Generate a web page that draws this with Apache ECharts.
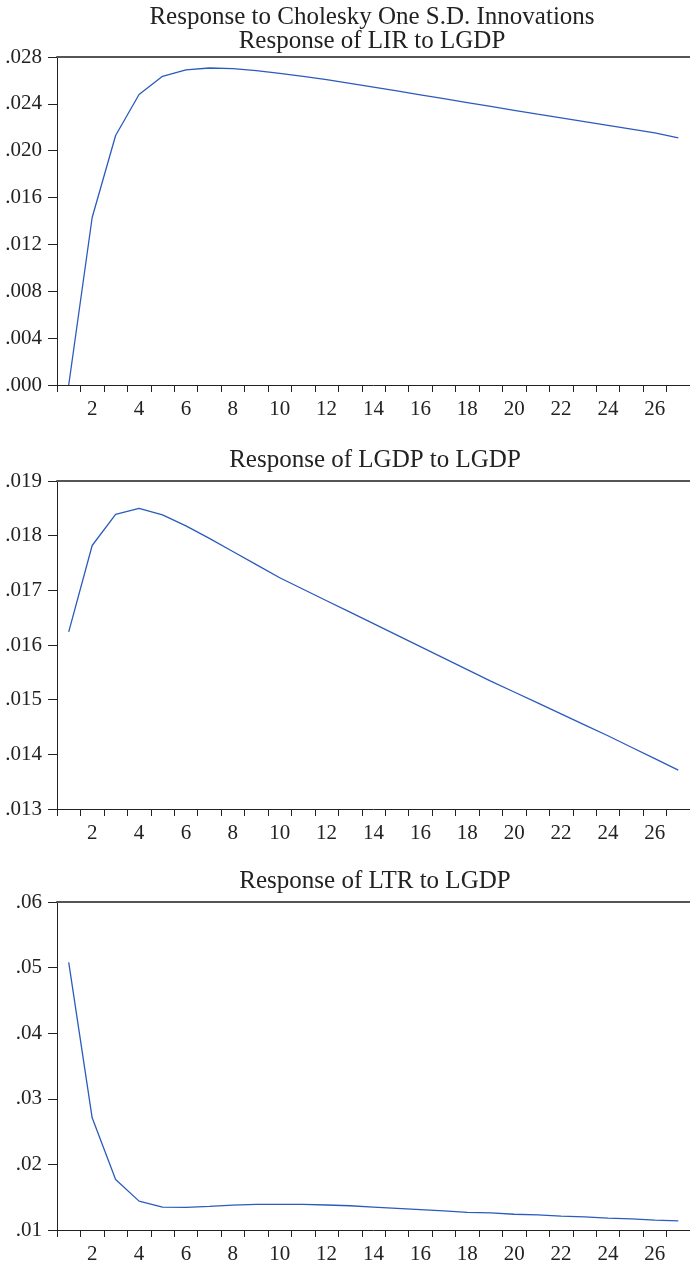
<!DOCTYPE html>
<html lang="en">
<head>
  <meta charset="UTF-8">
  <title>Response to Cholesky One S.D. Innovations</title>
  <script src="https://cdn.jsdelivr.net/npm/echarts@6/dist/echarts.min.js"></script>
</head>
<body style="margin:0">
<div id="main" style="width: 690px;height: 1266px;"></div>
<script>
  // periods 1..27
  let periods = []
  for (let i = 1; i <= 27; i++) periods.push(String(i))

  // Response of LIR to LGDP
  let lirValues = [0.0000, 0.0143, 0.0213, 0.0248, 0.02635, 0.0269, 0.02706, 0.0270, 0.02684, 0.02661,
    0.02635, 0.02606, 0.02575, 0.02543, 0.02510, 0.02477, 0.02444, 0.02411, 0.02378, 0.02345,
    0.02312, 0.0228, 0.02248, 0.02216, 0.02184, 0.02152, 0.0211]
  // Response of LGDP to LGDP
  let lgdpValues = [0.01624, 0.01782, 0.01839, 0.0185, 0.01838, 0.01818, 0.01795, 0.01771, 0.01747, 0.01723,
    0.01702, 0.01681, 0.0166, 0.01639, 0.01618, 0.01597, 0.01576, 0.01555, 0.01534, 0.01514,
    0.01494, 0.01474, 0.01454, 0.01434, 0.01413, 0.01392, 0.01371]
  // Response of LTR to LGDP
  let ltrValues = [0.0508, 0.0271, 0.0177, 0.0144, 0.0135, 0.01345, 0.0136, 0.0138, 0.0139, 0.01392,
    0.0139, 0.01381, 0.0137, 0.0135, 0.0133, 0.0131, 0.0129, 0.0127, 0.0126, 0.0124,
    0.0123, 0.0121, 0.012, 0.0118, 0.0117, 0.0115, 0.0114]

  let titles = ['Response of LIR to LGDP', 'Response of LGDP to LGDP', 'Response of LTR to LGDP']
  let yRanges = [[0, 0.028, 0.004, 3], [0.013, 0.019, 0.001, 3], [0.01, 0.06, 0.01, 2]]
  let gridTops = [57, 481, 902]

  let font = 'Liberation Serif'
  let myChart = echarts.init(document.getElementById('main'))

  let grids = [], xAxes = [], yAxes = [], series = [], titleList = []
  let allValues = [lirValues, lgdpValues, ltrValues]

  gridTops.forEach((top, i) => {
    grids.push({left: 57, top: top, width: 636, height: 328})
    // bottom axis
    xAxes.push({
      type: 'category', gridIndex: i, data: periods, boundaryGap: true,
      axisLine: {lineStyle: {color: '#222', width: 1}},
      axisTick: {show: true, interval: 0, length: 7, lineStyle: {color: '#222'}},
      axisLabel: {
        interval: (idx) => idx % 2 === 1,
        margin: 14, fontFamily: font, fontSize: 21, color: '#222'
      },
      splitLine: {show: false}
    })
    // top border
    xAxes.push({
      type: 'category', gridIndex: i, data: periods, position: 'top',
      axisLine: {lineStyle: {color: '#555', width: 2}},
      axisTick: {show: false}, axisLabel: {show: false}, splitLine: {show: false}
    })
    let r = yRanges[i]
    yAxes.push({
      type: 'value', gridIndex: i, min: r[0], max: r[1], interval: r[2],
      axisLine: {show: true, lineStyle: {color: '#222', width: 1}},
      axisTick: {show: true, length: 9, lineStyle: {color: '#222'}},
      axisLabel: {
        margin: 15, fontFamily: font, fontSize: 21, color: '#222',
        formatter: (v) => v.toFixed(r[3]).slice(1)
      },
      splitLine: {show: false}
    })
    series.push({
      type: 'line', xAxisIndex: i * 2, yAxisIndex: i, data: allValues[i],
      symbol: 'none', lineStyle: {color: '#2b5bbd', width: 1.3}
    })
  })

  // titles
  titleList.push({text: 'Response to Cholesky One S.D. Innovations', left: 372, top: 5, textAlign: 'center'})
  titleList.push({text: titles[0], left: 372, top: 29, textAlign: 'center'})
  titleList.push({text: titles[1], left: 375, top: 448, textAlign: 'center'})
  titleList.push({text: titles[2], left: 375, top: 869, textAlign: 'center'})
  titleList.forEach(t => {
    t.padding = 0
    t.textStyle = {fontFamily: font, fontSize: 25, fontWeight: 'normal', color: '#222'}
  })

  let option = {
    animation: false,
    backgroundColor: '#fff',
    title: titleList,
    grid: grids,
    xAxis: xAxes,
    yAxis: yAxes,
    series: series
  }
  myChart.setOption(option)
</script>
</body>
</html>
